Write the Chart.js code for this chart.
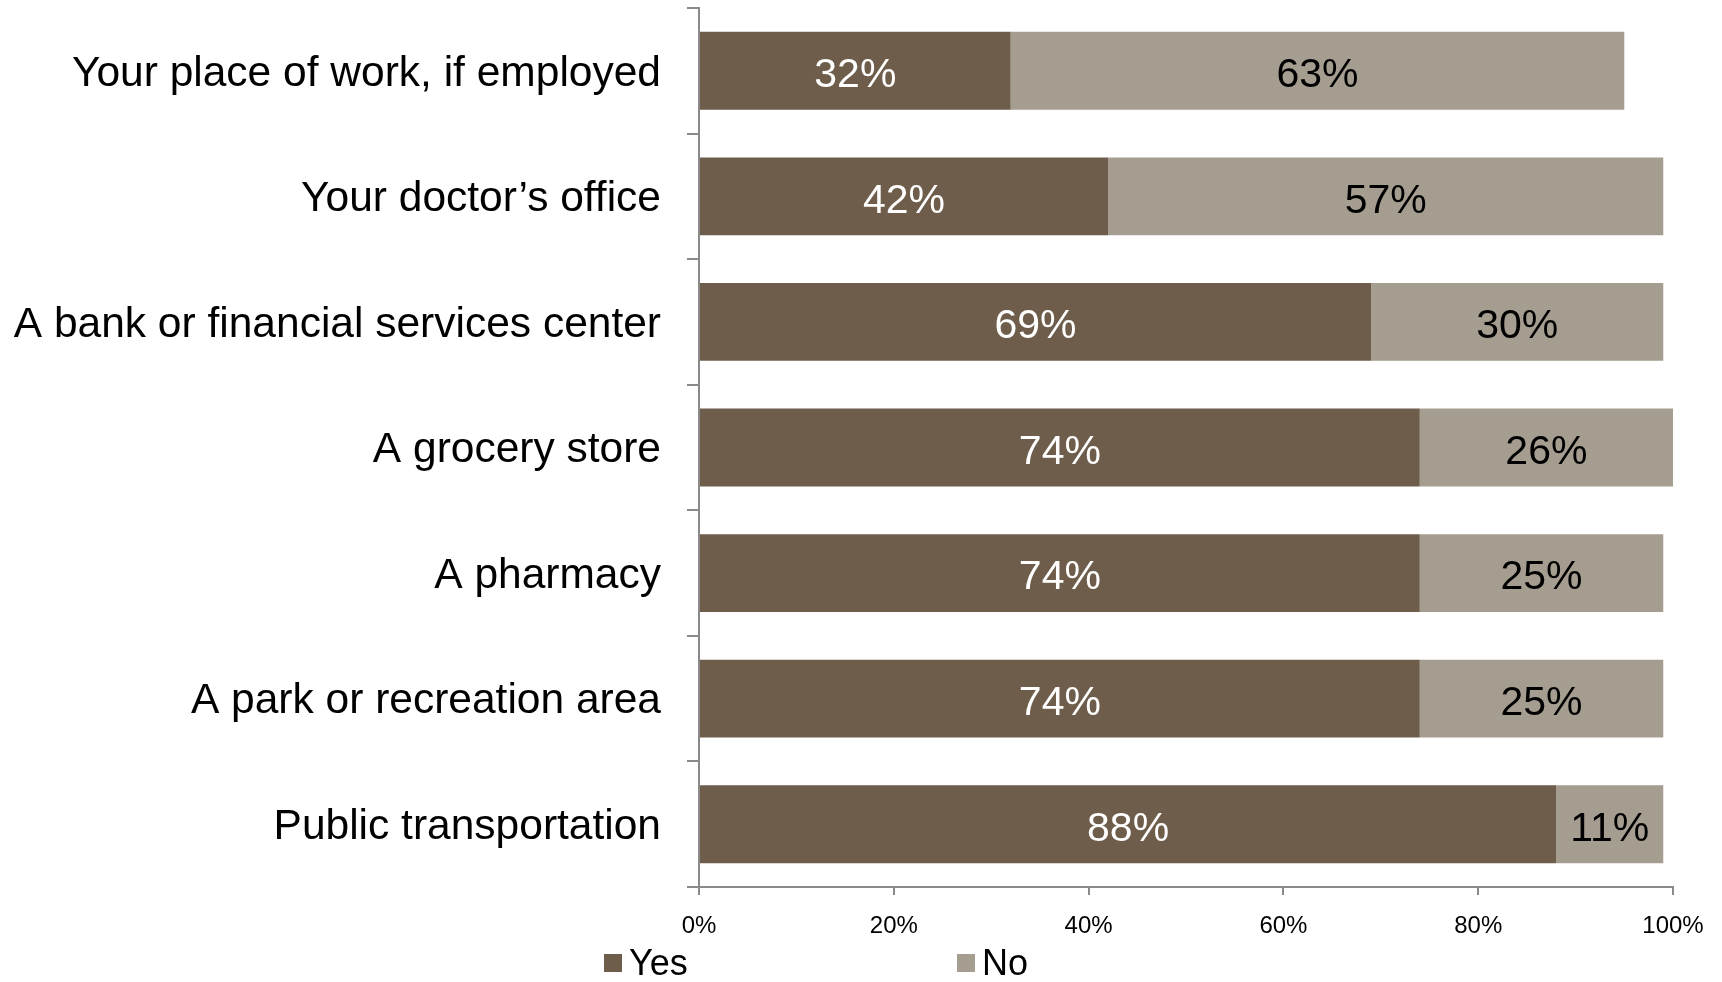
<!DOCTYPE html>
<html>
<head>
<meta charset="utf-8">
<script src="https://cdn.jsdelivr.net/npm/chart.js@4/dist/chart.umd.min.js"></script>
<style>
  html, body { margin: 0; padding: 0; background: #fff; }
  #wrap { position: relative; width: 1722px; height: 982px; }
  #legend { position: absolute; left: 0; top: 944px; height: 38px; width: 1722px;
    font-family: "Liberation Sans", Arial, sans-serif; font-size: 36px; color: #000; }
  .item { position: absolute; top: 0; display: flex; align-items: center; height: 38px; }
  .box { width: 18px; height: 18px; margin-right: 7px; }
</style>
</head>
<body>
<div id="wrap">
  <canvas id="chart" width="1722" height="982"></canvas>
  <div id="legend"></div>
</div>
<script>
const categories = [
  'Your place of work, if employed',
  'Your doctor\u2019s office',
  'A bank or financial services center',
  'A grocery store',
  'A pharmacy',
  'A park or recreation area',
  'Public transportation'
];
const yesValues = [32, 42, 69, 74, 74, 74, 88];
const noValues = [63, 57, 30, 26, 25, 25, 11];
const xTicks = [0, 20, 40, 60, 80, 100];

const yesColor = '#6e5d4a';
const noColor = '#a69d91';
const axisColor = '#8a8a8a';
const fontFamily = '"Liberation Sans", Arial, sans-serif';

// draw value labels centred in each bar segment
const barLabels = {
  id: 'barLabels',
  afterDatasetsDraw(chart) {
    const ctx = chart.ctx;
    ctx.save();
    ctx.font = '41px ' + fontFamily;
    ctx.textAlign = 'center';
    ctx.textBaseline = 'middle';
    chart.data.datasets.forEach((ds, i) => {
      const meta = chart.getDatasetMeta(i);
      ctx.fillStyle = i === 0 ? '#ffffff' : '#000000';
      meta.data.forEach((bar, j) => {
        const p = bar.getCenterPoint();
        ctx.fillText(ds.data[j] + '%', p.x, p.y + 5);
      });
    });
    ctx.restore();
  }
};

const chart = new Chart(document.getElementById('chart'), {
  type: 'bar',
  data: {
    labels: categories,
    datasets: [
      { label: 'Yes', data: yesValues, backgroundColor: yesColor, borderWidth: 0,
        barPercentage: 0.62, categoryPercentage: 1 },
      { label: 'No', data: noValues, backgroundColor: noColor, borderWidth: 0,
        barPercentage: 0.62, categoryPercentage: 1 }
    ]
  },
  options: {
    indexAxis: 'y',
    responsive: false,
    animation: false,
    layout: { padding: { top: 8, right: 49, left: 0, bottom: 0 } },
    plugins: {
      legend: { display: false },
      tooltip: { enabled: false }
    },
    scales: {
      x: {
        stacked: true,
        min: 0,
        max: 100,
        afterBuildTicks: (scale) => { scale.ticks = xTicks.map(v => ({ value: v })); },
        afterFit: (scale) => { scale.height = 95; },
        border: { display: true, color: axisColor, width: 2 },
        grid: { drawOnChartArea: false, drawTicks: true, tickLength: 8, color: axisColor, lineWidth: 2 },
        ticks: {
          padding: 17,
          color: '#000',
          font: { family: fontFamily, size: 24 },
          callback: (v) => v + '%'
        }
      },
      y: {
        stacked: true,
        afterFit: (scale) => {
          scale.width = 699;
          scale.paddingTop = 0;
          scale.paddingBottom = 0;
        },
        border: { display: true, color: axisColor, width: 2 },
        grid: { drawOnChartArea: false, drawTicks: true, tickLength: 12, color: axisColor, lineWidth: 2, offset: true },
        ticks: {
          padding: 26,
          labelOffset: 3,
          color: '#000',
          font: { family: fontFamily, size: 42.5 }
        }
      }
    }
  },
  plugins: [barLabels]
});

// legend below the axis, built from the datasets
const legendEl = document.getElementById('legend');
const legendX = [604, 957];
chart.data.datasets.forEach((ds, i) => {
  const item = document.createElement('div');
  item.className = 'item';
  item.style.left = legendX[i] + 'px';
  const box = document.createElement('span');
  box.className = 'box';
  box.style.background = ds.backgroundColor;
  const txt = document.createElement('span');
  txt.textContent = ds.label;
  item.appendChild(box);
  item.appendChild(txt);
  legendEl.appendChild(item);
});
</script>
</body>
</html>
